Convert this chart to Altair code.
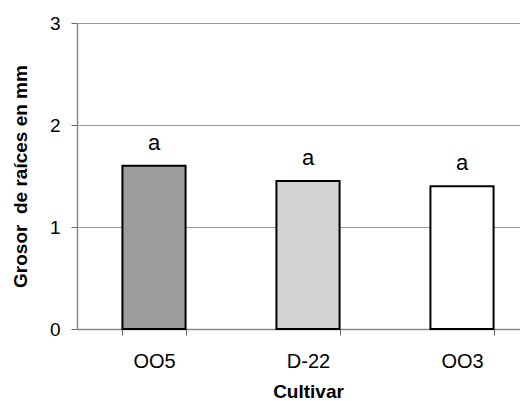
import altair as alt
import pandas as pd

cultivars = ["OO5", "D-22", "OO3"]
grosor = [1.60, 1.45, 1.40]
letras = ["a", "a", "a"]
fills = ["#9c9c9c", "#d3d3d3", "#ffffff"]

df = pd.DataFrame({"Cultivar": cultivars, "Grosor": grosor, "Letra": letras, "Fill": fills})

FONT = "Liberation Sans"

x_enc = alt.X(
    "Cultivar:N",
    sort=cultivars,
    scale=alt.Scale(paddingInner=0.59, paddingOuter=0.295, range=[0, 462]),
    axis=alt.Axis(
        title="Cultivar",
        labelAngle=0,
        labelFont=FONT,
        labelFontSize=20,
        labelColor="#000",
        labelPadding=16,
        titleFont=FONT,
        titleFontSize=19,
        titleFontWeight="bold",
        titleColor="#000",
        titlePadding=11,
        tickBand="extent",
        tickSize=6,
        tickColor="#666",
        domainColor="#888",
        domainWidth=1.5,
    ),
)

y_enc = alt.Y(
    "Grosor:Q",
    scale=alt.Scale(domain=[0, 3], nice=False),
    axis=alt.Axis(
        title="Grosor\u00a0 de raíces en mm",
        values=[0, 1, 2, 3],
        format="d",
        labelFont=FONT,
        labelFontSize=19,
        labelColor="#000",
        labelPadding=11,
        titleFont=FONT,
        titleFontSize=19,
        titleFontWeight="bold",
        titleColor="#000",
        titlePadding=19,
        tickSize=6,
        tickColor="#666",
        domainColor="#888",
        domainWidth=1.5,
        grid=True,
        gridColor="#999",
        gridWidth=1,
    ),
)

bars = alt.Chart(df).mark_bar(stroke="#000", strokeWidth=2).encode(
    x=x_enc,
    y=y_enc,
    fill=alt.Fill("Fill:N", scale=None),
)

text = alt.Chart(df).mark_text(dy=-23, fontSize=22, font=FONT, color="#000", baseline="middle").encode(
    x=alt.X("Cultivar:N", sort=cultivars),
    y=alt.Y("Grosor:Q"),
    text="Letra:N",
)

chart = (
    alt.layer(bars, text)
    .properties(
        width=443,
        height=306,
        autosize=alt.AutoSizeParams(type="none"),
        padding={"left": 69, "top": 15, "right": 0, "bottom": 72},
    )
    .configure(font=FONT)
    .configure_view(stroke=None)
)

chart.save("out.html", embed_options={"renderer": "svg", "actions": False})
